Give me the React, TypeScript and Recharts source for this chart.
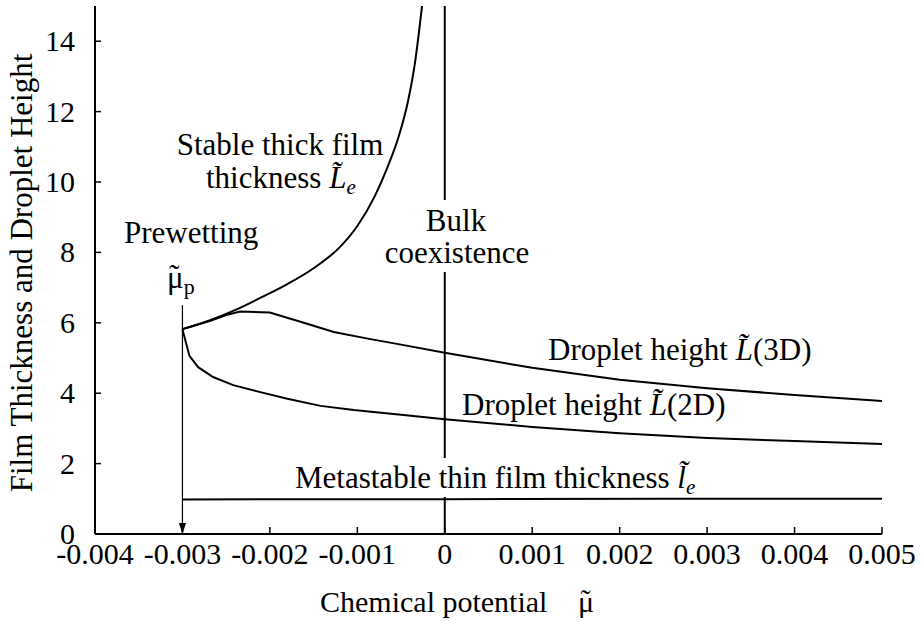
import React from 'react';
import { LineChart, Line, XAxis, YAxis } from 'recharts';

const xTicks = [-0.004, -0.003, -0.002, -0.001, 0, 0.001, 0.002, 0.003, 0.004, 0.005];
const xTickLabels = ['-0.004', '-0.003', '-0.002', '-0.001', '0', '0.001', '0.002', '0.003', '0.004', '0.005'];
const yTicks = [0, 2, 4, 6, 8, 10, 12, 14];

const stableX = [-0.003, -0.0027, -0.0024, -0.0021, -0.0018, -0.0015, -0.0012, -0.001, -0.0008, -0.00065, -0.00052, -0.00042, -0.00034, -0.00026];
const stableY = [5.82, 6.06, 6.36, 6.72, 7.1, 7.55, 8.15, 8.75, 9.6, 10.45, 11.35, 12.3, 13.4, 15.0];

const drop3X = [-0.003, -0.00268, -0.0025, -0.00234, -0.002, -0.00165, -0.00127, -0.00088, -0.0005, 0, 0.001, 0.002, 0.003, 0.004, 0.005];
const drop3Y = [5.82, 6.06, 6.22, 6.32, 6.29, 6.03, 5.74, 5.55, 5.38, 5.15, 4.72, 4.38, 4.14, 3.95, 3.78];

const drop2X = [-0.003, -0.00292, -0.00282, -0.00265, -0.00242, -0.00211, -0.0018, -0.00142, -0.00104, -0.0007, -0.0005, 0, 0.001, 0.002, 0.003, 0.004, 0.005];
const drop2Y = [5.82, 5.06, 4.74, 4.46, 4.23, 4.03, 3.84, 3.64, 3.52, 3.44, 3.39, 3.26, 3.04, 2.86, 2.73, 2.64, 2.56];

const thinX = [-0.003, -0.0015, 0, 0.0025, 0.005];
const thinY = [0.98, 0.99, 0.99, 1.0, 1.0];

const bulkX = [0, 0, 0, 0, 0, 0, 0, 0];
const bulkY: (number | null)[] = [0, 1.05, null, 2.16, 7.44, null, 9.49, 15];

const arrowX = [-0.003, -0.003];
const arrowY = [6.5, 0];

const toPts = (xs: number[], ys: (number | null)[]) => xs.map((x, i) => ({ x, y: ys[i] }));

const stableData = toPts(stableX, stableY);
const drop3Data = toPts(drop3X, drop3Y);
const drop2Data = toPts(drop2X, drop2Y);
const thinData = toPts(thinX, thinY);
const bulkData = toPts(bulkX, bulkY);
const arrowData = toPts(arrowX, arrowY);

const FONT = '"Liberation Serif", "Times New Roman", serif';
const FS = 30;
const AFS = 31;

const BottomTick = (p: any) => {
  const idx = xTicks.indexOf(p.payload.value);
  return (
    <g>
      <line x1={p.x} y1={p.y} x2={p.x} y2={p.y - 7} stroke="#000" strokeWidth={1.5} />
      <text x={p.x} y={p.y + 30} textAnchor="middle" fontFamily={FONT} fontSize={FS} fill="#000">
        {idx >= 0 ? xTickLabels[idx] : String(p.payload.value)}
      </text>
    </g>
  );
};
const TopTick = (p: any) => (
  <line x1={p.x} y1={p.y} x2={p.x} y2={p.y + 7} stroke="#000" strokeWidth={1.5} />
);
const LeftTick = (p: any) => (
  <g>
    <line x1={p.x} y1={p.y} x2={p.x + 6} y2={p.y} stroke="#000" strokeWidth={1.5} />
    <text x={p.x - 20} y={p.y + 10} textAnchor="end" fontFamily={FONT} fontSize={FS} fill="#000">
      {String(p.payload.value)}
    </text>
  </g>
);
const RightTick = (p: any) => (
  <line x1={p.x} y1={p.y} x2={p.x - 6} y2={p.y} stroke="#000" strokeWidth={1.5} />
);

const ArrowDot = (p: any) => {
  if (p.index !== 1) return <g key={'a' + p.index} />;
  const { cx, cy } = p;
  return (
    <polygon
      key={'a' + p.index}
      points={`${cx},${cy} ${cx - 3.5},${cy - 11} ${cx + 3.5},${cy - 11}`}
      fill="#000"
    />
  );
};

const axisStyle = { stroke: '#000', strokeWidth: 2 };

export default function App() {
  return (
    <div style={{ position: 'absolute', left: 0, top: 0, width: 923, height: 621, background: '#fff' }}>
      <LineChart width={923} height={621} margin={{ top: 6, right: 41, bottom: 0, left: 0 }}>
        <XAxis
          xAxisId="b"
          type="number"
          dataKey="x"
          domain={[-0.004, 0.005]}
          ticks={xTicks}
          allowDataOverflow
          orientation="bottom"
          height={87}
          tickSize={0}
          tickMargin={0}
          tickLine={false}
          axisLine={axisStyle}
          tick={<BottomTick />}
          interval={0}
        />
        <XAxis
          xAxisId="t"
          type="number"
          dataKey="x"
          domain={[-0.004, 0.005]}
          ticks={xTicks}
          allowDataOverflow
          orientation="top"
          height={0}
          tickSize={0}
          tickMargin={0}
          tickLine={false}
          axisLine={axisStyle}
          tick={<TopTick />}
          interval={0}
        />
        <YAxis
          yAxisId="l"
          type="number"
          domain={[0, 15]}
          ticks={yTicks}
          allowDataOverflow
          orientation="left"
          width={95}
          tickSize={0}
          tickMargin={0}
          tickLine={false}
          axisLine={axisStyle}
          tick={<LeftTick />}
          interval={0}
        />
        <YAxis
          yAxisId="r"
          type="number"
          domain={[0, 15]}
          ticks={yTicks}
          allowDataOverflow
          orientation="right"
          width={0}
          tickSize={0}
          tickMargin={0}
          tickLine={false}
          axisLine={axisStyle}
          tick={<RightTick />}
          interval={0}
        />
        <Line xAxisId="b" yAxisId="l" data={stableData} dataKey="y" type="monotoneX" stroke="#000" strokeWidth={2} dot={false} isAnimationActive={false} />
        <Line xAxisId="b" yAxisId="l" data={drop3Data} dataKey="y" type="linear" stroke="#000" strokeWidth={2} dot={false} isAnimationActive={false} />
        <Line xAxisId="b" yAxisId="l" data={drop2Data} dataKey="y" type="linear" stroke="#000" strokeWidth={2} dot={false} isAnimationActive={false} />
        <Line xAxisId="b" yAxisId="l" data={thinData} dataKey="y" type="linear" stroke="#000" strokeWidth={2} dot={false} isAnimationActive={false} />
        <Line xAxisId="b" yAxisId="l" data={bulkData} dataKey="y" type="linear" stroke="#000" strokeWidth={2} dot={false} connectNulls={false} isAnimationActive={false} />
        <Line xAxisId="b" yAxisId="l" data={arrowData} dataKey="y" type="linear" stroke="#000" strokeWidth={1.2} dot={<ArrowDot />} isAnimationActive={false} />
      </LineChart>
      <svg width={923} height={621} style={{ position: 'absolute', left: 0, top: 0, pointerEvents: 'none' }}>
        <g fontFamily={FONT} fontSize={AFS} fill="#000">
          <text x={280} y={155} textAnchor="middle">Stable thick film</text>
          <text x={206} y={188}>
            thickness <tspan fontStyle="italic">{'L\u0303'}</tspan>
            <tspan fontStyle="italic" fontSize={21} dy={6}>e</tspan>
          </text>
          <text x={124} y={243}>Prewetting</text>
          <text x={167} y={288}>
            {'\u03BC'}
            <tspan fontSize={22} dy={6}>p</tspan>
          </text>
          <text x={174.5} y={286} textAnchor="middle">{'\u02DC'}</text>
          <text x={456} y={231} textAnchor="middle">Bulk</text>
          <text x={457} y={263} textAnchor="middle">coexistence</text>
          <text x={548} y={360}>
            Droplet height <tspan fontStyle="italic">{'L\u0303'}</tspan>(3D)
          </text>
          <text x={462} y={415}>
            Droplet height <tspan fontStyle="italic">{'L\u0303'}</tspan>(2D)
          </text>
          <text x={295} y={488}>
            Metastable thin film thickness <tspan fontStyle="italic">{'l\u0303'}</tspan>
            <tspan fontStyle="italic" fontSize={21} dy={6}>e</tspan>
          </text>
          <text x={32} y={273} textAnchor="middle" transform="rotate(-90 32 273)">
            Film Thickness and Droplet Height
          </text>
        </g>
        <g fontFamily={FONT} fontSize={FS} fill="#000">
          <text x={320} y={612}>Chemical potential</text>
          <text x={578} y={612}>{'\u03BC'}</text>
          <text x={585.5} y={610} textAnchor="middle">{'\u02DC'}</text>
        </g>
      </svg>
    </div>
  );
}
